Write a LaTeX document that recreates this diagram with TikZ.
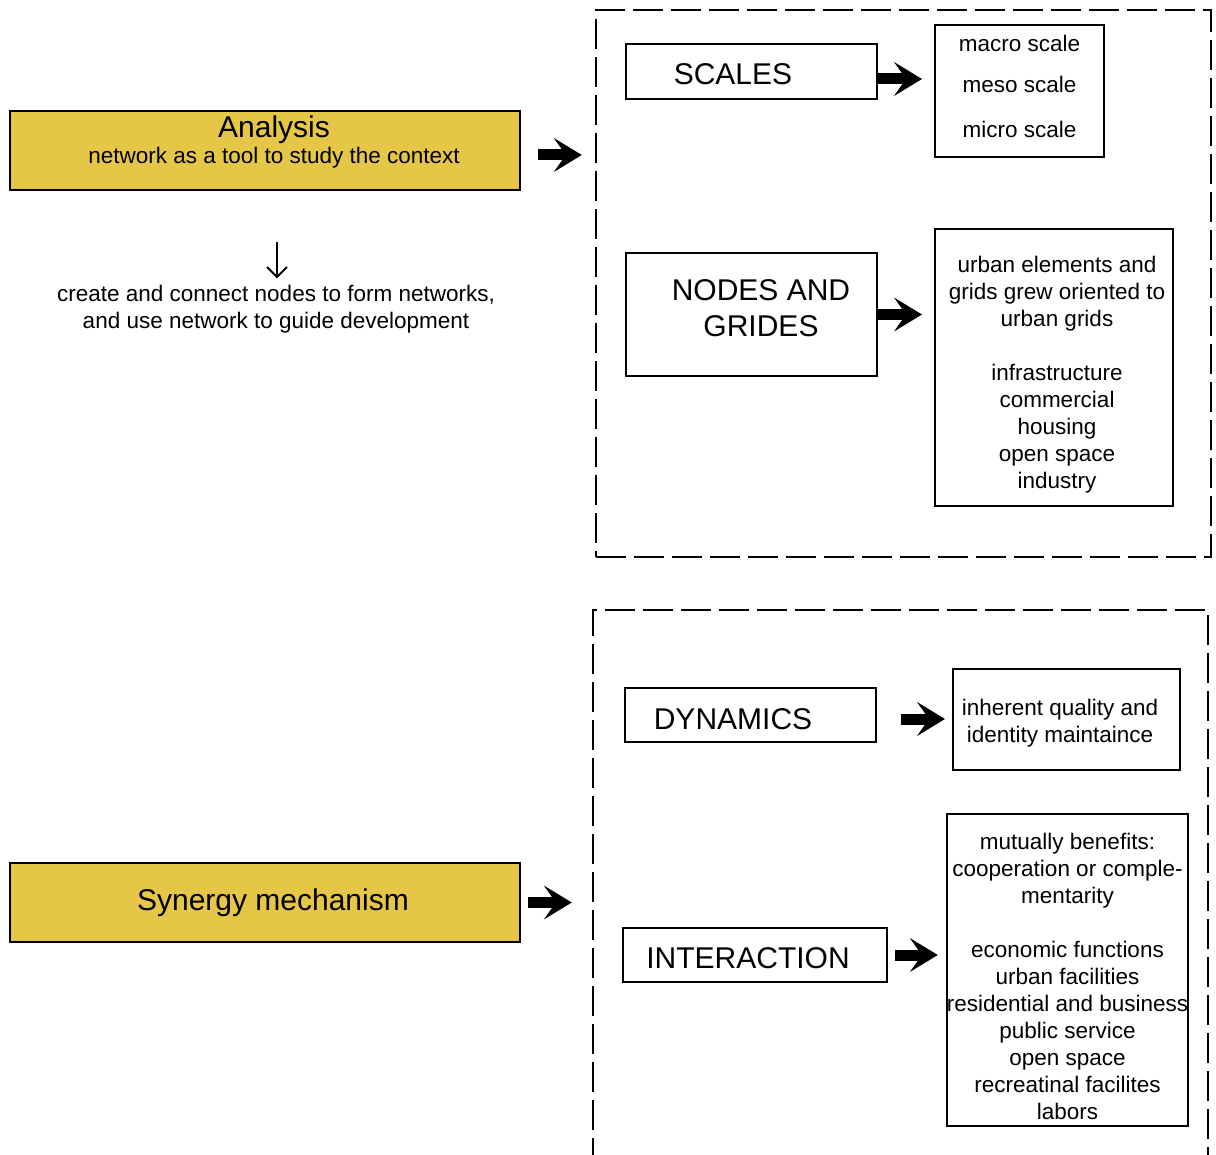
\documentclass[tikz,border=0pt]{standalone}
\usepackage{fontspec}
\setmainfont{Liberation Sans}
\usetikzlibrary{arrows.meta}
\definecolor{boxgold}{RGB}{230,198,71}
\newcommand{\boxfont}{\fontsize{15}{18}\selectfont}
\newcommand{\listfont}{\fontsize{11.25}{13.5}\selectfont}
\tikzset{
  goldbox/.style={draw, line width=1pt, fill=boxgold, minimum width=255pt, minimum height=39.5pt, inner sep=0pt, align=center},
  topicbox/.style={draw, line width=1pt, inner sep=0pt, align=center, font=\boxfont},
  listbox/.style={draw, line width=1pt, inner sep=0pt, align=center, font=\listfont},
  groupframe/.style={draw, line width=1.2pt, dash pattern=on 15pt off 4pt, minimum width=307.5pt},
  bigarrow/.style={line width=5.5pt, -{Stealth[length=14pt, width=17pt, inset=6pt, line width=0pt]}},
  thinarrow/.style={line width=1pt, -{Straight Barb[length=5pt, width=10pt]}}
}

\begin{document}
\begin{tikzpicture}[x=0.5pt, y=-0.5pt]
			%%%%% START %%%%%
			\useasboundingbox (0,0) rectangle (1216,1155);
			
			\node[goldbox, font=\listfont] (analysis) at (265,150.5) {\hspace*{9pt}{\boxfont Analysis}\\[-0.5pt] \hspace*{9pt}network as a tool to study the context\rule[-11pt]{0pt}{11pt}};
			\coordinate (downstart) at (277,242);
			\node[font=\listfont, align=center] (develop) at (276,309.5) {create and connect nodes to form networks,\\ and use network to guide development};
			\draw[thinarrow] (downstart) -- (downstart |- develop.north);
			
			\node[groupframe, minimum height=273.5pt] (scaleframe) at (903.5,283.5) {};
			\node[topicbox, minimum width=125.5pt, minimum height=27.5pt] (scales) at (751.5,71.5) {\rule{0pt}{13.5pt}SCALES\hspace{18.5pt}};
			\node[listbox, minimum width=84.5pt, minimum height=66pt] (scalelist) at (1019.5,91) {macro scale\\[7pt] meso scale\\[9pt] micro scale\rule[-4.5pt]{0pt}{4.5pt}};
			\node[topicbox, minimum width=125.5pt, minimum height=61.5pt] (grids) at (751.5,314.5) {\hspace*{9.5pt}NODES AND\\ \hspace*{9.5pt}GRIDES\rule[-6pt]{0pt}{6pt}};
			\node[listbox, minimum width=119pt, minimum height=138.5pt] (gridlist) at (1054,367.5) {\rule{0pt}{15.2pt}\hspace*{3pt}urban elements and\\ \hspace*{3pt}grids grew oriented to\\ \hspace*{3pt}urban grids\\[13.5pt] \hspace*{3pt}infrastructure\\ \hspace*{3pt}commercial\\ \hspace*{3pt}housing\\ \hspace*{3pt}open space\\ \hspace*{3pt}industry};
			
			\draw[bigarrow, shorten <=8.5pt, shorten >=6.5pt] ([yshift=-2.25pt]analysis.east) -- ([yshift=-2.25pt]analysis.east -| scaleframe.west);
			\draw[bigarrow, shorten >=6pt] ([yshift=-3.75pt]scales.east) -- ([yshift=-3.75pt]scales.east -| scalelist.west);
			\draw[bigarrow, shorten >=6pt] (grids.east) -- (grids.east -| gridlist.west);
			
			%%%%% SYNERGY %%%%%
			\node[goldbox, font=\boxfont] (synergy) at (265,902.5) {\hspace*{8pt}Synergy mechanism\rule[-3pt]{0pt}{3pt}};
			\node[groupframe, minimum height=280pt] (synframe) at (900.5,890) {};
			\node[topicbox, minimum width=125.5pt, minimum height=27pt] (dynamics) at (750.5,715) {\rule{0pt}{14.7pt}DYNAMICS\hspace{17.5pt}};
			\node[listbox, minimum width=113.5pt, minimum height=50.5pt] (dynlist) at (1066.5,719.5) {\rule{0pt}{12.2pt}inherent quality and\hspace*{6.5pt}\\ identity maintaince\hspace*{6.5pt}};
			\node[topicbox, minimum width=132pt, minimum height=27pt] (interaction) at (755,955) {\rule{0pt}{13.7pt}INTERACTION\hspace{7pt}};
			\node[listbox, minimum width=119.5pt, minimum height=156pt] (interlist) at (1067.5,970) {\rule{0pt}{14.7pt}mutually benefits:\\ cooperation or comple-\\ mentarity\\[13.5pt] economic functions\\ urban facilities\\ residential and business\\ public service\\ open space\\ recreatinal facilites\\ labors};
			
			\draw[bigarrow, shorten <=3.5pt, shorten >=10pt] (synergy.east) -- (synergy.east -| synframe.west);
			\draw[bigarrow, shorten <=12pt, shorten >=3.5pt] ([yshift=-2pt]dynamics.east) -- ([yshift=-2pt]dynamics.east -| dynlist.west);
			\draw[bigarrow, shorten <=3.5pt, shorten >=4pt] (interaction.east) -- (interaction.east -| interlist.west);
			
			%%%%% END %%%%%
\end{tikzpicture}
\end{document}
